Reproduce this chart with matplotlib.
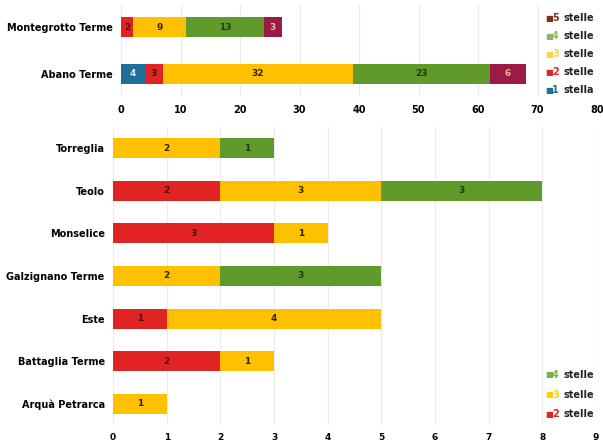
import numpy as np
import matplotlib
matplotlib.use("Agg")
import matplotlib.pyplot as plt

plt.rcParams['font.family'] = ['DejaVu Sans']
plt.rcParams['font.weight'] = 'bold'

# colori per categoria
c1 = '#1f6f9a'
c2 = '#e02424'
c3 = '#ffc000'
c4 = '#5f9a2a'
c5 = '#9b1b45'

# grafico in alto: comuni termali principali
top_names = ['Abano Terme', 'Montegrotto Terme']
top_1 = [4, 0]
top_2 = [3, 2]
top_3 = [32, 9]
top_4 = [23, 13]
top_5 = [6, 3]
top_ticks = [0, 10, 20, 30, 40, 50, 60, 70, 80]

# grafico in basso: altri comuni
bot_names = ['Arquà Petrarca', 'Battaglia Terme', 'Este', 'Galzignano Terme',
             'Monselice', 'Teolo', 'Torreglia']
bot_2 = [0, 2, 1, 0, 3, 2, 0]
bot_3 = [1, 1, 4, 2, 1, 3, 2]
bot_4 = [0, 0, 0, 3, 0, 3, 1]
bot_ticks = [0, 1, 2, 3, 4, 5, 6, 7, 8, 9]


def stacked(ax, names, series, colors, txtcolors, height):
    y = np.arange(len(names))
    left = np.zeros(len(names))
    for vals, col, tc in zip(series, colors, txtcolors):
        vals = np.array(vals, dtype=float)
        bars = ax.barh(y, vals, left=left, height=height, color=col, zorder=3)
        for b, v in zip(bars, vals):
            if v > 0:
                ax.text(b.get_x() + b.get_width() / 2, b.get_y() + b.get_height() / 2,
                        '%d' % v, ha='center', va='center', fontsize=6.5,
                        color=tc, fontweight='bold', zorder=4)
        left += vals
    ax.set_yticks(y)
    ax.set_yticklabels(names, fontsize=7)
    ax.tick_params(length=0, labelsize=7, pad=6)
    ax.grid(axis='x', color='#ececec', linewidth=0.8, zorder=0)
    for s in ax.spines.values():
        s.set_visible(False)


fig = plt.figure(figsize=(6.03, 4.46), dpi=100)

ax1 = fig.add_axes([121 / 603, 1 - 97 / 446, 476 / 603, 92 / 446])
stacked(ax1, top_names, [top_1, top_2, top_3, top_4, top_5],
        [c1, c2, c3, c4, c5], ['#dde8f0', '#4a0c0c', '#2e2200', '#22380c', '#e0c090'], 0.43)
ax1.set_xlim(0, 80)
ax1.set_ylim(-0.49, 1.47)
ax1.set_xticks(top_ticks)

ax2 = fig.add_axes([113 / 603, 1 - 425 / 446, 483 / 603, 298 / 446])
stacked(ax2, bot_names, [bot_2, bot_3, bot_4],
        [c2, c3, c4], ['#4a0c0c', '#2e2200', '#22380c'], 0.47)
ax2.set_xlim(0, 9)
ax2.set_ylim(-0.5, 6.5)
ax2.set_xticks(bot_ticks)
ax2.tick_params(axis='x', labelsize=6.5)


def legend(entries, x, ys):
    for (num, word, col), yy in zip(entries, ys):
        fig.text(x / 603, 1 - yy / 446, '■', color=col, fontsize=6, va='center', ha='left')
        fig.text((x + 7) / 603, 1 - yy / 446, num, color=col, fontsize=7,
                 va='center', ha='left', fontweight='bold')
        fig.text((x + 18) / 603, 1 - yy / 446, word, color='#222222', fontsize=7,
                 va='center', ha='left', fontweight='bold')


legend([('5', 'stelle', '#7a3020'), ('4', 'stelle', '#8fb860'), ('3', 'stelle', '#ffd24a'),
        ('2', 'stelle', c2), ('1', 'stella', c1)], 545, [18, 36, 54, 72, 90])
legend([('4', 'stelle', '#7ab048'), ('3', 'stelle', '#ffd000'), ('2', 'stelle', c2)],
       545, [375, 395, 414])

fig.savefig('out.png', dpi=100)
